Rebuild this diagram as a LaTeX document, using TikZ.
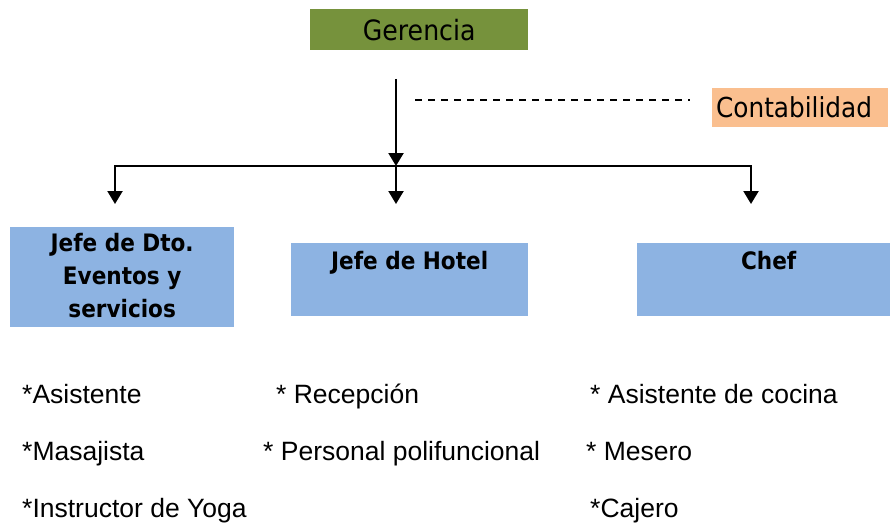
\documentclass[tikz,border=0pt]{standalone}
\usepackage{fontspec}
\setmainfont{Liberation Sans}
\newfontfamily\orgcond{DejaVu Sans Condensed}
\usetikzlibrary{
  arrows.meta,
  positioning,
  calc
}
\definecolor{orgGreen}{RGB}{118,146,60}
\definecolor{orgPeach}{RGB}{250,191,143}
\definecolor{orgBlue}{RGB}{141,179,226}
\tikzset{
  orgbox/.style={
    fill=orgBlue,
    draw=none,
    inner sep=0pt,
    anchor=north west
  },
  orgboss/.style={
    fill=orgGreen,
    inner sep=0pt,
    anchor=north west,
    font=\orgcond\fontsize{28}{33}\selectfont
  },
  orgside/.style={
    fill=orgPeach,
    inner xsep=4pt,
    inner ysep=0pt,
    anchor=north west,
    align=left,
    font=\orgcond\fontsize{27.5}{33}\selectfont
  },
  orgtitle/.style={
    inner sep=0pt,
    align=center,
    font=\orgcond\bfseries\fontsize{24}{33}\selectfont
  },
  orgitem/.style={
    anchor=base west,
    inner sep=0pt,
    font=\fontsize{26.5}{30}\selectfont
  },
  orgarrow/.style={
    -{Triangle[length=13pt,width=15pt]},
    line width=2.2pt,
    draw=black
  },
  orgdashed/.style={
    line width=1.3pt,
    dash pattern=on 7pt off 6pt,
    draw=black
  }
}

\begin{document}
\begin{tikzpicture}[x=1pt, y=-1pt]
  \useasboundingbox (0,0) rectangle (890,524);

  % top level
  \node[orgboss, minimum width=218pt, minimum height=41pt] (gerencia) at (310,9) {Gerencia};
  \node[orgside, text width=168pt, minimum height=39pt] (conta) at (712,88) {Contabilidad};

  % departments
  \node[orgbox, minimum width=224pt, minimum height=100pt] (eventos) at (10,227) {};
  \node[orgbox, minimum width=237pt, minimum height=73pt] (hotel) at (291,243) {};
  \node[orgbox, minimum width=253pt, minimum height=73pt] (chef) at (637,243) {};

  \node[orgtitle, below=6pt of eventos.north] (eventosTxt) {Jefe de Dto.\\Eventos y\\servicios};
  \node[orgtitle, below=8pt of hotel.north] (hotelTxt) {Jefe de Hotel};
  \node[orgtitle, below=8pt of chef.north, xshift=5pt] (chefTxt) {Chef};

  % connectors
  \coordinate (stem) at (396,79);
  \coordinate (hub) at (396,166);
  \coordinate (eventosIn) at (115,204);
  \coordinate (hotelIn) at (396,204);
  \coordinate (chefIn) at (751,204);
  \coordinate (dashStart) at (415,100);
  \coordinate (dashEnd) at (690,100);

  \draw[orgarrow] (stem) -- (hub);
  \draw[orgarrow] (hub) -| (eventosIn);
  \draw[orgarrow] (hub) -| (chefIn);
  \draw[orgarrow] (hub) -- (hotelIn);
  \draw[orgdashed] (dashStart) -- (dashEnd);

  % staff lists
  \foreach \n/\x/\y/\t in {
      asist/22/403/{*Asistente},
      masaj/22/460/{*Masajista},
      yoga/22/517/{*Instructor de Yoga},
      recep/276/403/{* Recepción},
      poli/263/460/{* Personal polifuncional},
      cocina/590/403/{* Asistente de cocina},
      mesero/586/460/{* Mesero},
      cajero/590/517/{*Cajero}} {
    \node[orgitem] (\n) at (\x,\y) {\t};
  }
\end{tikzpicture}
\end{document}
